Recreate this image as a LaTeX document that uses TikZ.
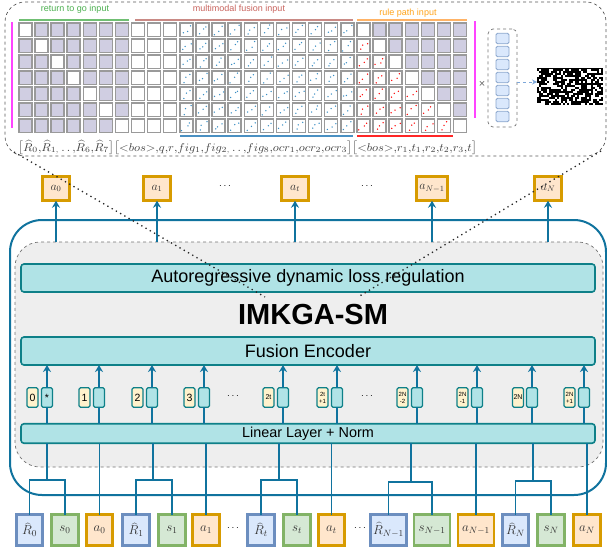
\RequirePackage{fix-cm}
\documentclass[tikz,border=0pt]{standalone}
\usepackage{fontspec}
\setmainfont{Liberation Sans}
\usetikzlibrary{arrows.meta,calc}
\definecolor{encblue}{HTML}{10739E}
\definecolor{tealfill}{HTML}{B0E3E6}
\definecolor{tealline}{HTML}{0E8088}
\definecolor{yelfill}{HTML}{FFF2CC}
\definecolor{rfill}{HTML}{DAE8FC}
\definecolor{rline}{HTML}{6C8EBF}
\definecolor{sfill}{HTML}{D5E8D4}
\definecolor{sline}{HTML}{82B366}
\definecolor{afill}{HTML}{FFE6CC}
\definecolor{aline}{HTML}{D79B00}
\definecolor{purp}{HTML}{D0CEE2}
\definecolor{cellline}{HTML}{9A9A9A}
\definecolor{dotblue}{HTML}{3A8EC4}
\definecolor{coregray}{HTML}{EEEEEE}
\definecolor{rtggreen}{HTML}{4CAF50}
\definecolor{mmred}{HTML}{C8645E}
\definecolor{mmline}{HTML}{C98A85}
\definecolor{rpor}{HTML}{FFA31A}
\definecolor{rporline}{HTML}{FFB366}
\definecolor{brblue}{HTML}{4A90C2}
\definecolor{magline}{HTML}{FF44FF}
\definecolor{arrblue}{HTML}{7DA7D9}
\begin{document}
\begin{tikzpicture}[x=1pt,y=-1pt,
  every node/.style={inner sep=0pt, outer sep=0pt},
  bar/.style={rectangle, rounded corners=3pt, draw=tealline, fill=tealfill, line width=1.6pt, minimum width=574pt},
  tok/.style={rectangle, line width=2.6pt, minimum height=31pt, minimum width=26.5pt, text=black!80, font=\fontsize{13}{13}\selectfont},
  rtok/.style={tok, draw=rline, fill=rfill},
  stok/.style={tok, draw=sline, fill=sfill},
  atok/.style={tok, draw=aline, fill=afill},
  atop/.style={atok, minimum height=24.5pt, minimum width=27pt, font=\fontsize{12}{12}\selectfont},
  conn/.style={draw=encblue, line width=1.6pt},
  arr/.style={conn, -{Stealth[length=7pt,width=8pt]}},
  ybox/.style={rectangle, rounded corners=1.5pt, draw=tealline, fill=yelfill, line width=1.3pt, minimum width=11pt, minimum height=19.5pt, font=\fontsize{10.5}{10.5}\selectfont, align=center},
  tbox/.style={ybox, fill=tealfill},
  cellbox/.style={draw=cellline, line width=1.4pt},
  dotline/.style={line width=1.3pt, dash pattern=on 1.3pt off 3.6pt, black!85},
  toplabel/.style={font=\fontsize{9}{9}\selectfont},
]
\useasboundingbox (0,0) rectangle (607,554);

% ---------- top panel ----------
\node[draw=black!65, dashed, line width=0.7pt, rounded corners=20pt, minimum width=601pt, minimum height=154pt] (panel) at (305.5,79) {};

\pgfmathsetseed{7}
\foreach \r in {1,...,7}{
  \foreach \c in {1,...,28}{
    \pgfmathsetmacro{\xa}{18+(\c-1)*16.1}
    \pgfmathsetmacro{\ya}{22+(\r-1)*16}
    \pgfmathtruncatemacro{\typ}{(\c<=7) ? ((\c==\r) ? 0 : 1) : ((\c<=10) ? 0 : ((\c<=21) ? 2 : ((\c==21+\r) ? 0 : ((\c<21+\r) ? 3 : 1))))}
    \ifnum\typ=1 \def\cf{purp}\else\def\cf{white}\fi
    \filldraw[cellbox, fill=\cf] ({\xa+0.8},{\ya+0.8}) rectangle ++(13,13.5);
    \ifnum\typ>1
      \ifnum\typ=2 \def\dc{dotblue}\else\def\dc{red}\fi
      \foreach \t in {0.15,0.5,0.85}{
        \fill[\dc] ({\xa+2.5+\t*10+rand*1.5},{\ya+13-\t*10+rand*1.5}) circle (0.75pt);
      }
    \fi
  }
}

% brackets and labels
\draw[rtggreen!80, line width=1.5pt] (19,20) -- (129,20);
\draw[mmline, line width=1.5pt] (135,20) -- (353,20);
\draw[rporline, line width=1.5pt] (357,20) -- (467,20);
\draw[brblue, line width=1.5pt] (180,136) -- (353,136);
\draw[red!85, line width=1.5pt] (357,136) -- (453,136);
\node[toplabel, text=rtggreen] (lrtg) at (75,9) {return to go input};
\node[toplabel, text=mmred] (lmm) at (239,9) {multimodal fusion input};
\node[toplabel, text=rpor] (lrp) at (408,13) {rule path input};
\draw[magline, line width=1.5pt] (12,22) -- (12,128);
\draw[magline, line width=1.5pt] (475,21) -- (475,118);

\node[text=black!75] (formula) at (247.5,147.5) {\resizebox*{459pt}{15pt}{$\bigl[\widehat{R}_0{,}\widehat{R}_{1{,}}\,.\,.\,{,}\widehat{R}_6{,}\widehat{R}_7\bigr]\bigl[{<}bos{>}{,}q{,}r{,}fig_1{,}fig_{2{,}}\,.\,.\,{,}fig_8{,}ocr_1{,}ocr_2{,}ocr_3\bigr]\bigl[{<}bos{>}{,}r_1{,}t_1{,}r_2{,}t_2{,}r_3{,}t\bigr]$}};

% vector stack
\node[draw=black!55, dashed, line width=0.7pt, rounded corners=5pt, minimum width=29pt, minimum height=98pt] (stack) at (502.5,78) {};
\foreach \k in {0,...,6}{
  \node[draw=rline!80, fill=rfill, line width=0.8pt, rounded corners=1.5pt, minimum width=13pt, minimum height=10.5pt] (v\k) at (502.5,{38.5+\k*13}) {};
}
\node[text=black!60, font=\fontsize{11}{11}\selectfont] (times) at (482,84) {×};
\node[fill=black, minimum width=66pt, minimum height=37pt] (noise) at (570,86.5) {};
\foreach \i in {0,...,32}{
  \foreach \j in {0,...,17}{
    \pgfmathtruncatemacro{\w}{(rnd<0.36) ? 1 : 0}
    \ifnum\w=1 \fill[white] ({537+2*\i},{68.5+2*\j}) rectangle ++(2,2); \fi
  }
}
\draw[arrblue, dashed, line width=0.8pt, -{Stealth[length=5pt,width=5pt]}] ($(stack.east)+(0,4)$) -- ($(noise.west)+(0,-4.5)$);

% ---------- encoder ----------
\node[draw=encblue, line width=2pt, rounded corners=32pt, minimum width=596pt, minimum height=275pt] (enc) at (308,357.5) {};
\node[draw=black!55, dashed, fill=coregray, line width=0.7pt, rounded corners=25pt, minimum width=588pt, minimum height=225pt] (core) at (309,354.5) {};

\node[bar, minimum height=28pt, font=\fontsize{18}{18}\selectfont] (ar) at (308,278) {Autoregressive dynamic loss regulation};
\node[font=\bfseries\fontsize{29}{29}\selectfont] (title) at (313,315) {IMKGA-SM};
\node[bar, minimum height=28pt, font=\fontsize{18}{18}\selectfont] (fus) at (308,351) {Fusion Encoder};
\node[bar, minimum height=19.5pt, font=\fontsize{14.4}{14.4}\selectfont] (lin) at (308,433.5) {Linear Layer + Norm};

% token pairs
\node[ybox] (y1) at (32.5,397.5) {0};   \node[tbox] (t1) at (47,397.5) {*};
\node[ybox] (y2) at (84.5,397.5) {1};   \node[tbox] (t2) at (99,397.5) {};
\node[ybox] (y3) at (137.5,397.5) {2};  \node[tbox] (t3) at (152,397.5) {};
\node[ybox] (y4) at (189.5,397.5) {3};  \node[tbox] (t4) at (204,397.5) {};
\node[ybox, font=\fontsize{7}{7}\selectfont] (y5) at (268.5,397.5) {2t}; \node[tbox] (t5) at (283,397.5) {};
\node[ybox, font=\fontsize{6}{7}\selectfont] (y6) at (322.5,397.5) {2t\\+1}; \node[tbox] (t6) at (337,397.5) {};
\node[ybox, font=\fontsize{6}{7}\selectfont] (y7) at (402.5,397.5) {2N\\-2}; \node[tbox] (t7) at (417,397.5) {};
\node[ybox, font=\fontsize{6}{7}\selectfont] (y8) at (462.5,397.5) {2N\\-1}; \node[tbox] (t8) at (477,397.5) {};
\node[ybox, font=\fontsize{7}{7}\selectfont] (y9) at (518,397.5) {2N}; \node[tbox] (t9) at (532,397.5) {};
\node[ybox, font=\fontsize{6}{7}\selectfont] (y10) at (569.5,397.5) {2N\\+1}; \node[tbox] (t10) at (584,397.5) {};
\node (md1) at (233,396) {$\cdots$};
\node (md2) at (367,396) {$\cdots$};

\foreach \i in {1,...,10}{
  \draw[arr] (t\i.north) -- (fus.south -| t\i.north);
  \draw[conn] (lin.north -| t\i.south) -- (t\i.south);
}

% top action tokens
\node[atop] (A0) at (56,188.5) {$a_0$};
\node[atop] (A1) at (157,188.5) {$a_1$};
\node[atop] (At) at (295,188.5) {$a_t$};
\node[atop, minimum width=31pt] (AN1) at (432,188.5) {$a_{N-1}$};
\node[atop] (AN) at (548,188.5) {$a_N$};
\node (td1) at (225,186) {$\cdots$};
\node (td2) at (367,186) {$\cdots$};
\foreach \n in {A0,A1,At,AN1,AN}{
  \draw[arr] (core.north -| \n.south) -- (\n.south);
}

% bottom tokens
\node[rtok] (R0) at (29.5,530) {$\widehat{R}_0$};
\node[stok] (s0) at (65,530) {$s_0$};
\node[atok] (a0) at (99.5,530) {$a_0$};
\node[rtok] (R1) at (136,530) {$\widehat{R}_1$};
\node[stok] (s1) at (172,530) {$s_1$};
\node[atok] (a1) at (206,530) {$a_1$};
\node[rtok] (Rt) at (261,530) {$\widehat{R}_t$};
\node[stok] (st) at (297,530) {$s_t$};
\node[atok] (at) at (331.5,530) {$a_t$};
\node[rtok, minimum width=36pt] (RN1) at (388.5,530) {$\widehat{R}_{N-1}$};
\node[stok, minimum width=36pt] (sN1) at (432,530) {$s_{N-1}$};
\node[atok, minimum width=36pt] (aN1) at (476,530) {$a_{N-1}$};
\node[rtok] (RN) at (515.5,530) {$\widehat{R}_N$};
\node[stok] (sN) at (551,530) {$s_N$};
\node[atok] (aN) at (587,530) {$a_N$};
\node (bd1) at (233,528) {$\cdots$};
\node (bd2) at (360,528) {$\cdots$};

\coordinate (j1) at (47,480);
\coordinate (j2) at (153,480);
\coordinate (j3) at (279,480);
\coordinate (j4) at (411,482);
\coordinate (j5) at (533,481);
\foreach \jj/\ra/\sb in {j1/R0/s0, j2/R1/s1, j3/Rt/st, j4/RN1/sN1, j5/RN/sN}{
  \draw[conn] (\ra.north) |- (\jj) -| (\sb.north);
  \draw[conn] (\jj) -- (lin.south -| \jj);
}
\foreach \aa in {a0,a1,at,aN1,aN}{
  \draw[conn] (\aa.north) -- (lin.south -| \aa.north);
}

% dotted zoom lines
\coordinate (dlA) at (14,152);
\coordinate (dlB) at (265,297);
\coordinate (drA) at (601,151);
\coordinate (drB) at (358,297);
\draw[dotline] (dlA) -- (dlB);
\draw[dotline] (drA) -- (drB);
\end{tikzpicture}
\end{document}
